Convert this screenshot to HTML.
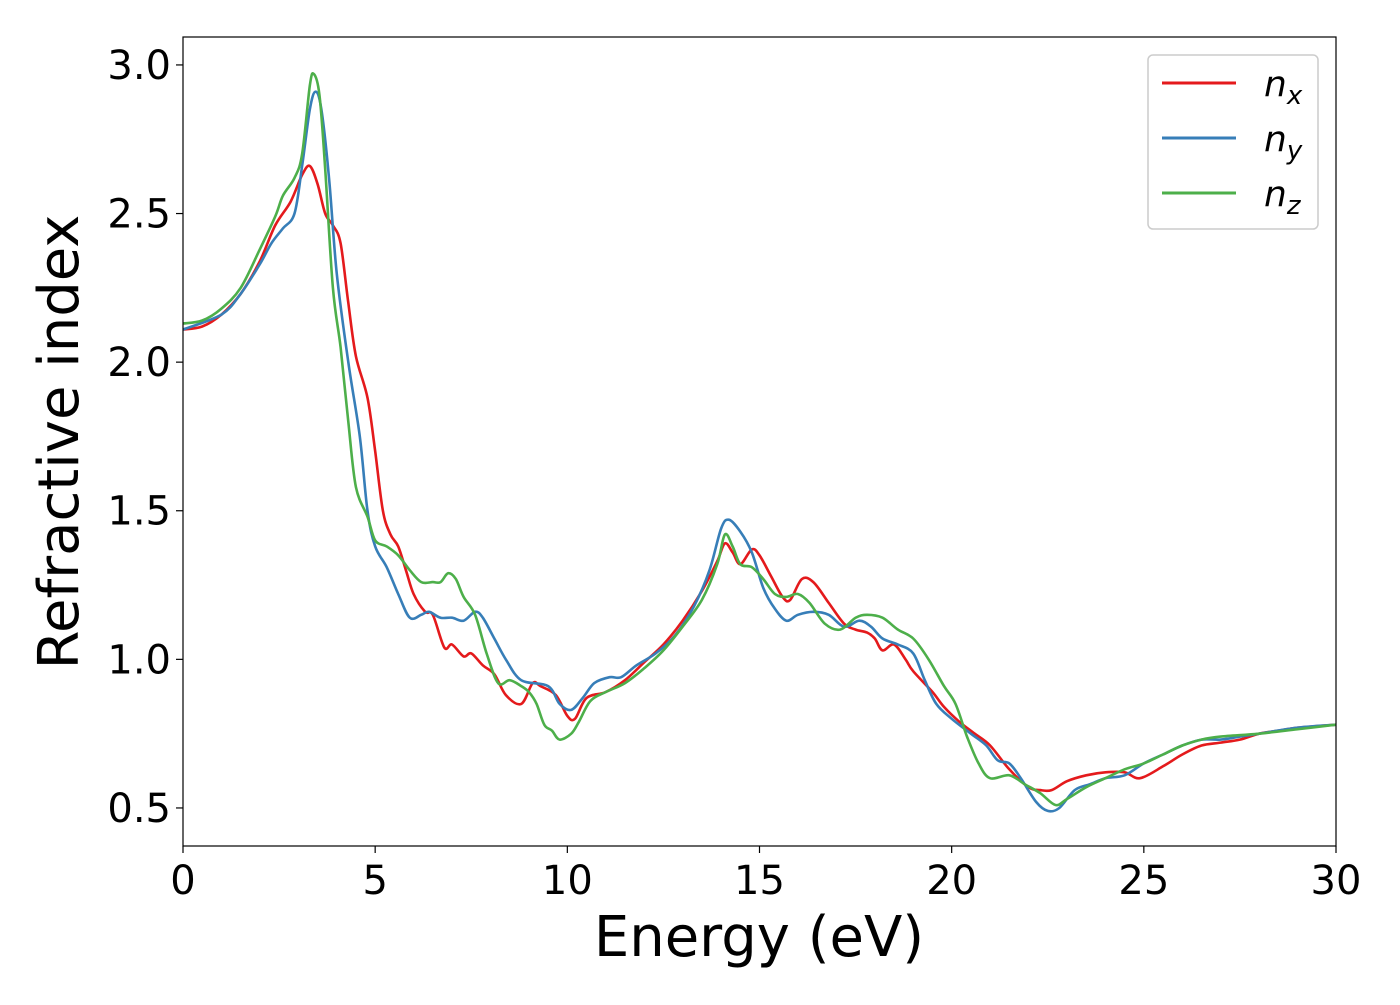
<!DOCTYPE html>
<html><head><meta charset="utf-8"><style>
body{margin:0;background:#fff}
svg{font-family:"DejaVu Sans","Liberation Sans",sans-serif}
</style></head><body>
<svg id="chart" width="1400" height="1000" viewBox="0 0 1400 1000" xmlns="http://www.w3.org/2000/svg">
<rect width="1400" height="1000" fill="#fff"/>
<g id="series"></g>
<g id="axes"></g>
<text x="759" y="956" font-size="56" text-anchor="middle">Energy (eV)</text>
<text transform="translate(78,442) rotate(-90)" font-size="56" text-anchor="middle">Refractive index</text>
<g>
<rect x="1148" y="55" width="170" height="174" rx="5" fill="#fff" stroke="#ccc" stroke-width="1.5"/>
<line x1="1162" y1="83" x2="1236" y2="83" stroke="#e41a1c" stroke-width="3"/>
<line x1="1162" y1="138" x2="1236" y2="138" stroke="#377eb8" stroke-width="3"/>
<line x1="1162" y1="193" x2="1236" y2="193" stroke="#4daf4a" stroke-width="3"/>
<text x="1264" y="96" font-size="36" font-style="italic">n<tspan font-size="26" dy="8">x</tspan></text>
<text x="1264" y="151" font-size="36" font-style="italic">n<tspan font-size="26" dy="8">y</tspan></text>
<text x="1264" y="206" font-size="36" font-style="italic">n<tspan font-size="26" dy="8">z</tspan></text>
</g>
</svg>
<script>
const xTicks=[0,5,10,15,20,25,30];
const yTicks=[0.5,1.0,1.5,2.0,2.5,3.0];
const yTickLabels=["0.5","1.0","1.5","2.0","2.5","3.0"];
const nxE=[0,0.5,1,1.5,2,2.4,2.8,3.1,3.3,3.5,3.7,3.9,4.1,4.3,4.5,4.8,5.0,5.2,5.4,5.6,5.8,6.0,6.3,6.5,6.8,7.0,7.3,7.5,7.8,8.1,8.4,8.8,9.1,9.3,9.7,10.0,10.2,10.5,11.0,11.5,12.0,12.5,13.0,13.5,13.9,14.1,14.3,14.5,14.8,15.0,15.3,15.6,15.8,16.1,16.4,16.8,17.2,17.5,17.8,18.0,18.2,18.5,18.8,19.0,19.5,19.8,20.2,20.6,21.0,21.5,22.0,22.3,22.6,23.0,23.5,24.0,24.5,24.9,25.5,26,26.5,27,27.5,28,28.5,29,30];
const nxV=[2.11,2.12,2.16,2.23,2.34,2.46,2.54,2.63,2.66,2.6,2.5,2.46,2.4,2.2,2.02,1.88,1.7,1.5,1.42,1.38,1.3,1.22,1.16,1.15,1.04,1.05,1.01,1.02,0.98,0.95,0.88,0.85,0.92,0.91,0.88,0.81,0.80,0.87,0.89,0.93,0.99,1.05,1.13,1.23,1.33,1.39,1.36,1.32,1.37,1.35,1.28,1.21,1.20,1.27,1.26,1.19,1.12,1.10,1.09,1.07,1.03,1.05,1.00,0.96,0.89,0.84,0.79,0.75,0.71,0.63,0.57,0.56,0.56,0.59,0.61,0.62,0.62,0.60,0.64,0.68,0.71,0.72,0.73,0.75,0.76,0.77,0.78];
const nyE=[0,1,1.5,2,2.3,2.6,2.9,3.1,3.3,3.45,3.6,3.8,4.0,4.3,4.6,4.8,5.0,5.3,5.6,5.9,6.2,6.4,6.7,7.0,7.3,7.6,7.8,8.1,8.4,8.8,9.5,9.8,10.1,10.4,10.7,11.1,11.4,11.8,12.3,12.8,13.3,13.7,14.0,14.2,14.5,14.8,15.1,15.4,15.7,16.0,16.4,16.8,17.2,17.6,17.9,18.2,18.6,19.0,19.3,19.6,20.0,20.5,20.9,21.2,21.5,21.8,22.2,22.5,22.8,23.2,23.6,24.0,24.5,25,25.5,26,26.5,27,27.5,28,29,30];
const nyV=[2.11,2.16,2.23,2.33,2.40,2.45,2.50,2.66,2.85,2.91,2.85,2.62,2.3,2.0,1.75,1.5,1.38,1.31,1.22,1.14,1.15,1.16,1.14,1.14,1.13,1.16,1.14,1.07,1.00,0.93,0.91,0.85,0.83,0.87,0.92,0.94,0.94,0.98,1.02,1.08,1.18,1.30,1.44,1.47,1.43,1.36,1.24,1.17,1.13,1.15,1.16,1.15,1.11,1.13,1.11,1.07,1.05,1.02,0.93,0.85,0.80,0.75,0.71,0.66,0.65,0.60,0.52,0.49,0.50,0.56,0.58,0.60,0.61,0.65,0.68,0.71,0.73,0.73,0.74,0.75,0.77,0.78];
const nzE=[0,0.5,1,1.5,2,2.4,2.6,2.9,3.1,3.3,3.4,3.55,3.7,3.9,4.1,4.3,4.5,4.8,5.0,5.3,5.6,5.9,6.2,6.5,6.7,6.9,7.1,7.3,7.6,7.9,8.2,8.5,8.8,9.0,9.2,9.4,9.6,9.8,10.1,10.3,10.6,11.0,11.5,12,12.5,13,13.5,13.9,14.1,14.3,14.5,14.8,15.1,15.4,15.7,16.0,16.3,16.7,17.1,17.5,17.8,18.2,18.6,19.0,19.4,19.8,20.1,20.4,20.7,21.0,21.5,21.9,22.3,22.7,23.0,23.5,24,24.5,25,25.5,26,26.5,27,28,29,30];
const nzV=[2.13,2.14,2.18,2.25,2.38,2.49,2.56,2.62,2.70,2.93,2.97,2.90,2.65,2.25,2.05,1.80,1.58,1.48,1.40,1.38,1.35,1.30,1.26,1.26,1.26,1.29,1.27,1.21,1.15,1.02,0.92,0.93,0.91,0.89,0.85,0.78,0.76,0.73,0.75,0.79,0.86,0.89,0.92,0.97,1.03,1.11,1.20,1.32,1.42,1.38,1.32,1.31,1.27,1.22,1.21,1.22,1.19,1.12,1.10,1.14,1.15,1.14,1.10,1.07,1.00,0.91,0.85,0.74,0.65,0.60,0.61,0.58,0.55,0.51,0.53,0.57,0.60,0.63,0.65,0.68,0.71,0.73,0.74,0.75,0.765,0.78];

const X0=183,X1=1336,Y0=846,Y1=37;
const xMin=0,xMax=30,yMin=0.372,yMax=3.094;
const sx=v=>X0+(v-xMin)/(xMax-xMin)*(X1-X0);
const sy=v=>Y0-(v-yMin)/(yMax-yMin)*(Y0-Y1);
const NS="http://www.w3.org/2000/svg";
function mk(t,a){const e=document.createElementNS(NS,t);for(const k in a)e.setAttribute(k,a[k]);return e;}
function smooth(E,V){
  const p=E.map((e,i)=>[sx(e),sy(V[i])]);
  let d="M"+p[0][0].toFixed(1)+","+p[0][1].toFixed(1);
  for(let i=0;i<p.length-1;i++){
    const a=p[Math.max(0,i-1)],b=p[i],c=p[i+1],q=p[Math.min(p.length-1,i+2)];
    const c1=[b[0]+(c[0]-a[0])/6,b[1]+(c[1]-a[1])/6],c2=[c[0]-(q[0]-b[0])/6,c[1]-(q[1]-b[1])/6];
    d+=`C${c1[0].toFixed(1)},${c1[1].toFixed(1)} ${c2[0].toFixed(1)},${c2[1].toFixed(1)} ${c[0].toFixed(1)},${c[1].toFixed(1)}`;
  }
  return d;
}
const sg=document.getElementById('series');
const defs=mk('defs',{});const cp=mk('clipPath',{id:'clip'});cp.appendChild(mk('rect',{x:X0,y:Y1,width:X1-X0,height:Y0-Y1}));defs.appendChild(cp);sg.appendChild(defs);
sg.setAttribute('clip-path','url(#clip)');
[["nx",nxE,nxV,"#e41a1c"],["ny",nyE,nyV,"#377eb8"],["nz",nzE,nzV,"#4daf4a"]].forEach(s=>{
  const path=mk('path',{d:smooth(s[1],s[2]),fill:'none',stroke:s[3],'stroke-width':2.6,'stroke-linejoin':'round'});
  
  
  sg.appendChild(path);
});
const ax=document.getElementById('axes');
const frame=mk('rect',{x:X0,y:Y1,width:X1-X0,height:Y0-Y1,fill:'none',stroke:'#000','stroke-width':1.2});


ax.appendChild(frame);
xTicks.forEach(t=>{
  const x=sx(t);
  const l=mk('line',{x1:x,x2:x,y1:Y0,y2:Y0+7,stroke:'#000','stroke-width':1.2});
  
  
  ax.appendChild(l);
  const tx=mk('text',{x:x,y:Y0+48,'font-size':40,'text-anchor':'middle'});
  
  
  tx.textContent=String(t);ax.appendChild(tx);
});
yTicks.forEach((t,i)=>{
  const y=sy(t);
  const l=mk('line',{x1:X0-7,x2:X0,y1:y,y2:y,stroke:'#000','stroke-width':1.2});
  
  
  ax.appendChild(l);
  const tx=mk('text',{x:X0-12,y:y+14,'font-size':40,'text-anchor':'end'});
  
  
  tx.textContent=yTickLabels[i];ax.appendChild(tx);
});
</script>
</body></html>
